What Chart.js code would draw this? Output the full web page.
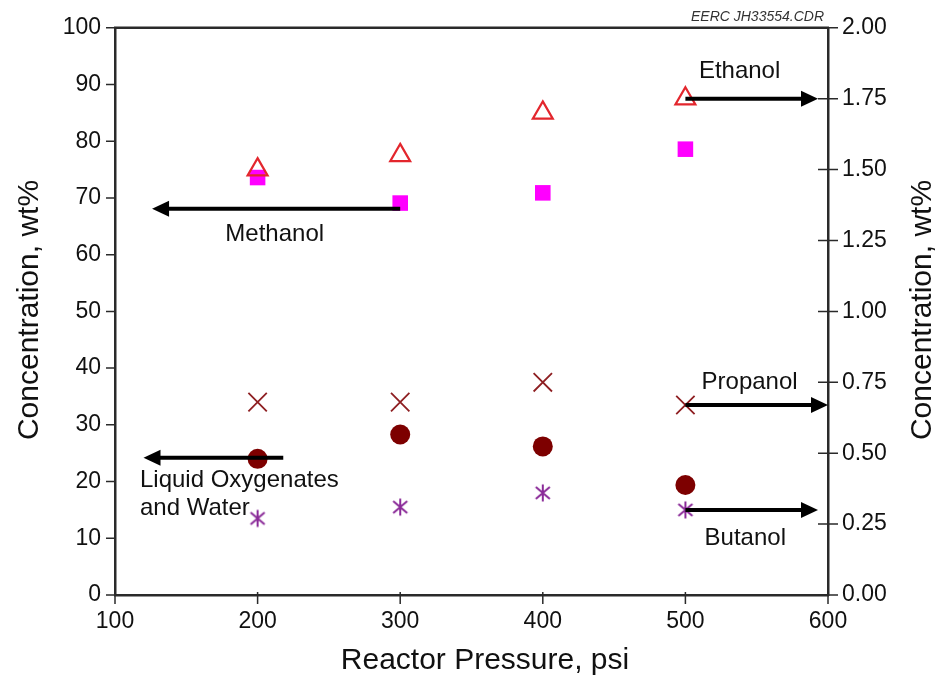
<!DOCTYPE html>
<html><head><meta charset="utf-8">
<script src="https://cdn.jsdelivr.net/npm/chart.js@4/dist/chart.umd.min.js"></script>
<style>html,body{margin:0;padding:0;background:#fff}#wrap{width:940px;height:680px;position:relative}</style>
</head><body><div id="wrap"><canvas id="c"></canvas></div>
<script>
// ---- data ----
const pressures = [200, 300, 400, 500];                 // Reactor Pressure, psi
const methanol = [73.6, 69.1, 70.9, 78.6];              // left axis, wt%
const liquidOxygenatesWater = [24.0, 28.3, 26.2, 19.4]; // left axis, wt%
const ethanol = [1.50, 1.55, 1.70, 1.75];               // right axis, wt%
const propanol = [0.68, 0.68, 0.75, 0.67];              // right axis, wt%
const butanol = [0.27, 0.31, 0.36, 0.30];               // right axis, wt%
const xTickValues = [100, 200, 300, 400, 500, 600];
const leftTickValues = [0, 10, 20, 30, 40, 50, 60, 70, 80, 90, 100];
const rightTickValues = [0, 0.25, 0.5, 0.75, 1, 1.25, 1.5, 1.75, 2];

// annotation arrows / labels (data coordinates)
const arrowAnnotations = [
  { axis: 'y2', x0: 500, x1: 593, y: 1.75 },   // Ethanol
  { axis: 'y',  x0: 300, x1: 126, y: 68.1 },   // Methanol
  { axis: 'y2', x0: 500, x1: 600, y: 0.67 },   // Propanol
  { axis: 'y',  x0: 218, x1: 120, y: 24.2 },   // Liquid Oxygenates
  { axis: 'y2', x0: 500, x1: 593, y: 0.30 }    // Butanol
];
const textAnnotations = [
  { text: 'Ethanol', axis: 'y2', x: 538, y: 1.845, align: 'center' },
  { text: 'Methanol', axis: 'y', x: 212, y: 63.5, align: 'center' },
  { text: 'Propanol', axis: 'y2', x: 545, y: 0.75, align: 'center' },
  { text: 'Butanol', axis: 'y2', x: 542, y: 0.20, align: 'center' },
  { text: 'Liquid Oxygenates', axis: 'y', x: 117.5, y: 20.2, align: 'left' },
  { text: 'and Water', axis: 'y', x: 117.5, y: 15.3, align: 'left' }
];

const FONT = "'Liberation Sans', Arial, Helvetica, sans-serif";
const AXIS_COLOR = '#2a2a2a';

// asterisk marker (vertical stroke + X)
function makeAsterisk(color) {
  const c = document.createElement('canvas');
  c.width = 20; c.height = 20;
  const g = c.getContext('2d');
  g.strokeStyle = color; g.lineWidth = 2; g.lineCap = 'butt';
  const cx = 10, cy = 10;
  g.beginPath();
  g.moveTo(cx, cy - 8.5); g.lineTo(cx, cy + 8.5);
  g.moveTo(cx - 7, cy - 6); g.lineTo(cx + 7, cy + 6);
  g.moveTo(cx - 7, cy + 6); g.lineTo(cx + 7, cy - 6);
  g.stroke();
  return c;
}

const pts = (ys) => pressures.map((x, i) => ({ x: x, y: ys[i] }));

const decorPlugin = {
  id: 'decor',
  afterDraw(chart) {
    const ctx = chart.ctx;
    const xs = chart.scales.x, yl = chart.scales.y, yr = chart.scales.y2;
    const area = chart.chartArea;
    ctx.save();
    ctx.strokeStyle = AXIS_COLOR;
    ctx.lineWidth = 2.5;
    // top border
    ctx.beginPath(); ctx.moveTo(area.left - 1, area.top); ctx.lineTo(area.right + 1, area.top); ctx.stroke();
    // tick marks
    ctx.lineWidth = 1.5;
    ctx.beginPath();
    leftTickValues.forEach(v => { const p = yl.getPixelForValue(v); ctx.moveTo(area.left - 9, p); ctx.lineTo(area.left, p); });
    rightTickValues.forEach(v => { const p = yr.getPixelForValue(v); ctx.moveTo(area.right - 10, p); ctx.lineTo(area.right + 10, p); });
    xTickValues.forEach(v => { const p = xs.getPixelForValue(v); ctx.moveTo(p, area.bottom - 3); ctx.lineTo(p, area.bottom + 9); });
    ctx.stroke();

    // arrows
    ctx.fillStyle = '#000'; ctx.strokeStyle = '#000';
    arrowAnnotations.forEach(a => {
      const ys = chart.scales[a.axis];
      const px0 = xs.getPixelForValue(a.x0), px1 = xs.getPixelForValue(a.x1), py = ys.getPixelForValue(a.y);
      const dir = Math.sign(px1 - px0);
      const headL = 17, headW = 8;
      ctx.lineWidth = 4;
      ctx.beginPath(); ctx.moveTo(px0, py); ctx.lineTo(px1 - dir * headL + dir, py); ctx.stroke();
      ctx.beginPath();
      ctx.moveTo(px1, py);
      ctx.lineTo(px1 - dir * headL, py - headW);
      ctx.lineTo(px1 - dir * headL, py + headW);
      ctx.closePath(); ctx.fill();
    });

    // labels
    ctx.fillStyle = '#111';
    ctx.font = '24px ' + FONT;
    ctx.textBaseline = 'middle';
    textAnnotations.forEach(t => {
      ctx.textAlign = t.align;
      ctx.fillText(t.text, xs.getPixelForValue(t.x), chart.scales[t.axis].getPixelForValue(t.y));
    });

    // axis titles
    ctx.font = '30px ' + FONT;
    ctx.textAlign = 'center';
    ctx.fillText('Reactor Pressure, psi', 485, 661);
    ctx.save(); ctx.translate(30, 310); ctx.rotate(-Math.PI / 2); ctx.fillText('Concentration, wt%', 0, 0); ctx.restore();
    ctx.save(); ctx.translate(923, 310); ctx.rotate(-Math.PI / 2); ctx.fillText('Concentration, wt%', 0, 0); ctx.restore();

    // file tag
    ctx.font = 'italic 14px ' + FONT;
    ctx.textAlign = 'right'; ctx.textBaseline = 'alphabetic';
    ctx.fillStyle = '#333';
    ctx.fillText('EERC JH33554.CDR', 824, 21);
    ctx.restore();
  }
};

new Chart(document.getElementById('c'), {
  type: 'scatter',
  data: {
    datasets: [
      { label: 'Ethanol', data: pts(ethanol), yAxisID: 'y2', pointStyle: 'triangle', pointRadius: 11.5, pointHoverRadius: 11.5,
        borderColor: '#e3262d', backgroundColor: 'rgba(0,0,0,0)', borderWidth: 2.2 },
      { label: 'Methanol', data: pts(methanol), yAxisID: 'y', pointStyle: 'rect', pointRadius: 11, pointHoverRadius: 11,
        borderColor: '#ff00ff', backgroundColor: '#ff00ff', borderWidth: 0 },
      { label: 'Propanol', data: pts(propanol), yAxisID: 'y2', pointStyle: 'crossRot', pointRadius: 13, pointHoverRadius: 13,
        borderColor: '#8e1f22', backgroundColor: '#8e1f22', borderWidth: 1.8 },
      { label: 'Liquid Oxygenates and Water', data: pts(liquidOxygenatesWater), yAxisID: 'y', pointStyle: 'circle', pointRadius: 10, pointHoverRadius: 10,
        borderColor: '#7d0000', backgroundColor: '#7d0000', borderWidth: 0 },
      { label: 'Butanol', data: pts(butanol), yAxisID: 'y2', pointStyle: makeAsterisk('#8a2a98'), pointRadius: 10,
        borderColor: '#8a2a98', backgroundColor: '#8a2a98' }
    ]
  },
  options: {
    responsive: true,
    maintainAspectRatio: false,
    animation: false,
    clip: false,
    layout: { padding: { top: 26, left: 0, right: 0, bottom: 0 } },
    plugins: { legend: { display: false }, tooltip: { enabled: false } },
    scales: {
      x: {
        type: 'linear', position: 'bottom', min: 100, max: 600,
        afterBuildTicks: s => { s.ticks = xTickValues.map(v => ({ value: v })); },
        afterFit: s => { s.height = 85; },
        grid: { display: false, drawTicks: false },
        border: { display: true, color: AXIS_COLOR, width: 2.5 },
        ticks: { padding: 13, color: '#111', font: { family: FONT, size: 23 }, maxRotation: 0 }
      },
      y: {
        position: 'left', min: 0, max: 100,
        afterBuildTicks: s => { s.ticks = leftTickValues.map(v => ({ value: v })); },
        afterFit: s => { s.width = 115; },
        grid: { display: false, drawTicks: false },
        border: { display: true, color: AXIS_COLOR, width: 2.5 },
        ticks: { padding: 14, color: '#111', font: { family: FONT, size: 23 } }
      },
      y2: {
        position: 'right', min: 0, max: 2,
        afterBuildTicks: s => { s.ticks = rightTickValues.map(v => ({ value: v })); },
        afterFit: s => { s.width = 112; },
        grid: { display: false, drawTicks: false },
        border: { display: true, color: AXIS_COLOR, width: 2.5 },
        ticks: { padding: 14, color: '#111', font: { family: FONT, size: 23 }, callback: v => Number(v).toFixed(2) }
      }
    }
  },
  plugins: [decorPlugin]
});
</script>
</body></html>
